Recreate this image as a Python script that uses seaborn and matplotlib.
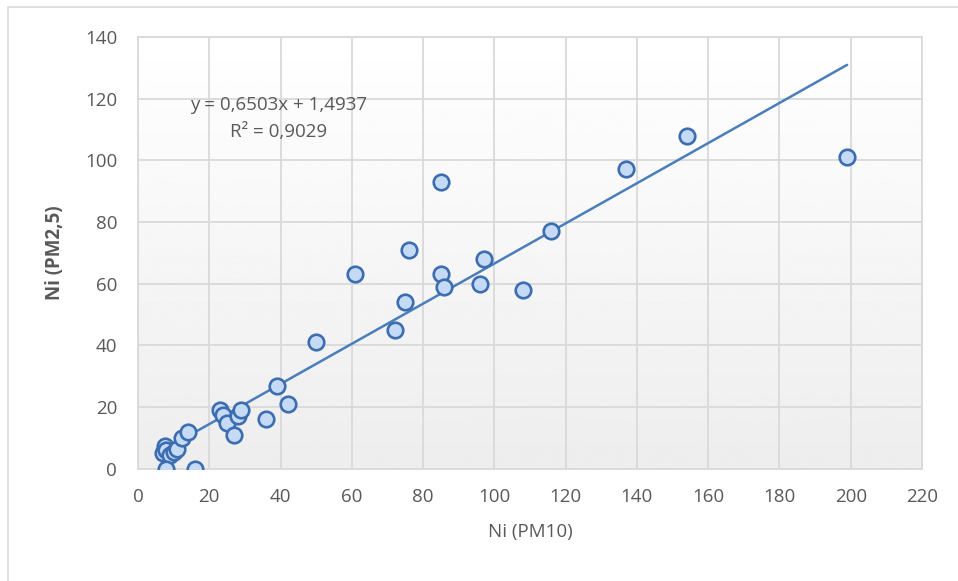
import numpy as np
import pandas as pd
import seaborn as sns
import matplotlib.pyplot as plt
from matplotlib.lines import Line2D

# Ni concentrations
ni_pm10 = [7, 7.5, 8, 9, 10, 11, 12.5, 14, 8, 16,
           23, 24, 25, 27, 28, 29, 36, 39, 42, 50,
           61, 72, 75, 76, 85, 85, 86, 96, 97, 108,
           116, 137, 154, 199]
ni_pm25 = [5, 7.5, 6, 4.5, 5.5, 6.5, 10, 12, 0, 0,
           19, 17.5, 15, 11, 17, 19, 16, 27, 21, 41,
           63, 45, 54, 71, 93, 63, 59, 60, 68, 58,
           77, 97, 108, 101]
slope = 0.6503
intercept = 1.4937
r2_text = "0,9029"

x_ticks = list(range(0, 221, 20))
y_ticks = list(range(0, 141, 20))

df = pd.DataFrame({"Ni (PM10)": ni_pm10, "Ni (PM2,5)": ni_pm25})

sns.set_style("whitegrid")
plt.rcParams["font.family"] = ["Open Sans", "DejaVu Sans"]

text_col = "#595959"
grid_col = "#d9d9d9"

fig = plt.figure(figsize=(9.58, 5.81), dpi=100)
ax = fig.add_axes([0.144, 0.193, 0.8184, 0.7437])

# soft white-to-grey plot area like the original
grad = np.linspace(1.0, 0.93, 256).reshape(-1, 1)
ax.imshow(grad, extent=[0, 220, 0, 140], aspect="auto", cmap="gray",
          vmin=0, vmax=1, zorder=0, origin="upper")

# trend line over the data range
line_x = np.array([min(ni_pm10), max(ni_pm10)])
trend = pd.DataFrame({"x": line_x, "y": slope * line_x + intercept})
sns.lineplot(data=trend, x="x", y="y", ax=ax, color="#4a7ebb",
             linewidth=1.8, zorder=2)

sns.scatterplot(data=df, x="Ni (PM10)", y="Ni (PM2,5)", ax=ax, s=125,
                color="#c5daf4", edgecolor="#3c6db0", linewidth=1.9,
                zorder=3)

ax.set_xlim(0, 220)
ax.set_ylim(0, 140)
ax.set_xticks(x_ticks)
ax.set_yticks(y_ticks)
ax.grid(True, color=grid_col, linewidth=1.3)
ax.set_axisbelow(True)
for sp in ax.spines.values():
    sp.set_color(grid_col)
    sp.set_linewidth(1.3)
ax.tick_params(axis="both", length=0, labelsize=13.5, labelcolor=text_col)
ax.tick_params(axis="x", pad=14)
ax.tick_params(axis="y", pad=15)

ax.set_xlabel("Ni (PM10)", fontsize=13.5, color=text_col, labelpad=12)
ax.set_ylabel("Ni (PM2,5)", fontsize=13.5, color=text_col, fontweight="bold",
              labelpad=14)

ax.text(39.5, 118, f"y = {slope:.4f}x + {intercept:.4f}".replace(".", ","),
        ha="center", va="center", fontsize=13.5, color=text_col)
ax.text(39.5, 109, f"R² = {r2_text}", ha="center", va="center",
        fontsize=13.5, color=text_col)

# outer chart border (top and left visible in the reference)
fig.add_artist(Line2D([0.008, 1.0], [0.988, 0.988], color=grid_col, linewidth=1.2))
fig.add_artist(Line2D([0.008, 0.008], [0.0, 0.988], color=grid_col, linewidth=1.2))

plt.savefig("out.png", dpi=100)
